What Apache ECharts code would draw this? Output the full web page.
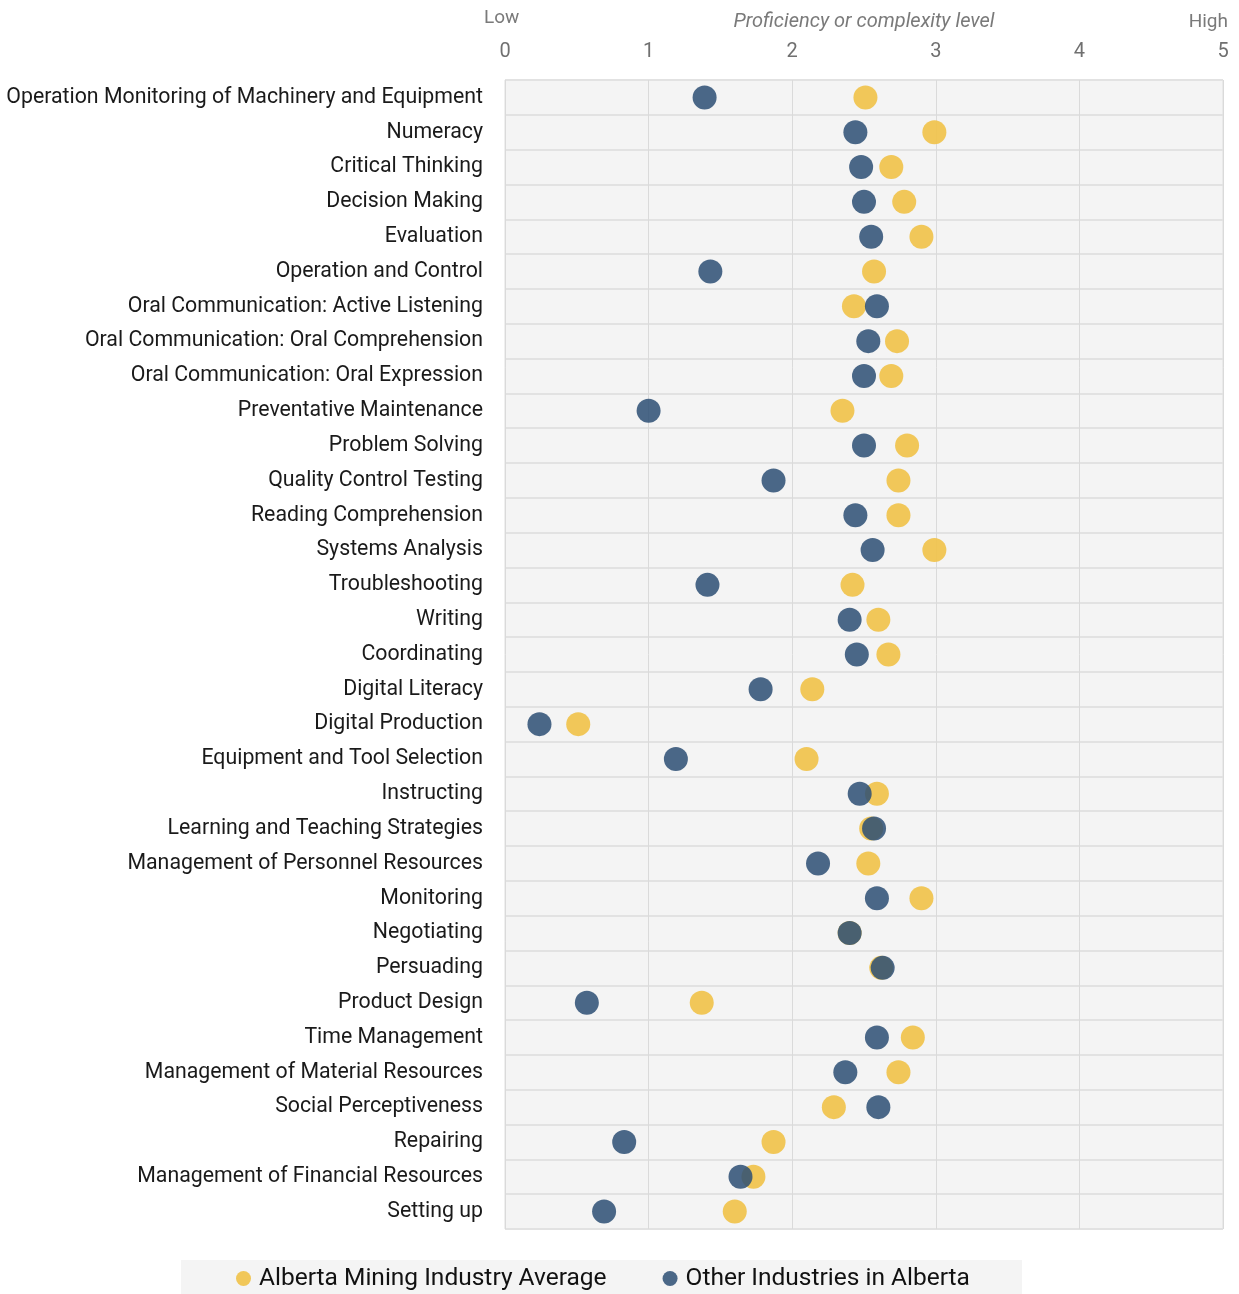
<!DOCTYPE html>
<html>
<head>
<meta charset="utf-8">
<script src="https://cdn.jsdelivr.net/npm/echarts@6/dist/echarts.min.js"></script>
<style>
  html, body { margin: 0; padding: 0; background: #ffffff; }
  #chart { width: 1239px; height: 1294px; }
</style>
</head>
<body>
<div id="chart"></div>
<script>
// Skills, top to bottom
const skills = [
  'Operation Monitoring of Machinery and Equipment',
  'Numeracy',
  'Critical Thinking',
  'Decision Making',
  'Evaluation',
  'Operation and Control',
  'Oral Communication: Active Listening',
  'Oral Communication: Oral Comprehension',
  'Oral Communication: Oral Expression',
  'Preventative Maintenance',
  'Problem Solving',
  'Quality Control Testing',
  'Reading Comprehension',
  'Systems Analysis',
  'Troubleshooting',
  'Writing',
  'Coordinating',
  'Digital Literacy',
  'Digital Production',
  'Equipment and Tool Selection',
  'Instructing',
  'Learning and Teaching Strategies',
  'Management of Personnel Resources',
  'Monitoring',
  'Negotiating',
  'Persuading',
  'Product Design',
  'Time Management',
  'Management of Material Resources',
  'Social Perceptiveness',
  'Repairing',
  'Management of Financial Resources',
  'Setting up'
];

// Alberta mining industry average proficiency level
const miningAverage = [
  2.51, 2.99, 2.69, 2.78, 2.90, 2.57, 2.43, 2.73, 2.69, 2.35,
  2.80, 2.74, 2.74, 2.99, 2.42, 2.60, 2.67, 2.14, 0.51, 2.10,
  2.59, 2.55, 2.53, 2.90, 2.40, 2.62, 1.37, 2.84, 2.74, 2.29,
  1.87, 1.73, 1.60
];

// Other industries in Alberta
const otherIndustries = [
  1.39, 2.44, 2.48, 2.50, 2.55, 1.43, 2.59, 2.53, 2.50, 1.00,
  2.50, 1.87, 2.44, 2.56, 1.41, 2.40, 2.45, 1.78, 0.24, 1.19,
  2.47, 2.57, 2.18, 2.59, 2.40, 2.63, 0.57, 2.59, 2.37, 2.60,
  0.83, 1.64, 0.69
];

const xTicks = [0, 1, 2, 3, 4, 5];

const seriesNames = ['Alberta Mining Industry Average', 'Other Industries in Alberta'];
const YELLOW = '#f0c450';
const BLUE = '#2d4f75';
const FONT = 'Roboto';

const chart = echarts.init(document.getElementById('chart'), null, { renderer: 'canvas' });

chart.setOption({
  animation: false,
  backgroundColor: '#ffffff',
  textStyle: { fontFamily: FONT },
  grid: {
    left: 505, right: 16, top: 80, bottom: 65,
    outerBoundsMode: 'none',
    containLabel: false,
    show: true, backgroundColor: '#f4f4f4', borderColor: '#dedede', borderWidth: 1
  },
  xAxis: {
    type: 'value',
    position: 'top',
    min: xTicks[0],
    max: xTicks[xTicks.length - 1],
    interval: 1,
    name: 'Proficiency or complexity level',
    nameLocation: 'middle',
    nameGap: 48,
    nameTextStyle: { fontSize: 20, fontStyle: 'italic', color: '#7a7a7a', fontFamily: FONT },
    axisLine: { show: false },
    axisTick: { show: false },
    axisLabel: { fontSize: 20, color: '#707070', margin: 18, fontFamily: FONT },
    splitLine: { show: true, lineStyle: { color: '#dadada', width: 1 } }
  },
  yAxis: {
    type: 'category',
    data: skills,
    inverse: true,
    boundaryGap: true,
    axisLine: { show: false },
    axisTick: { show: false },
    axisLabel: { fontSize: 21.3, color: '#1a1a1a', margin: 22, interval: 0, fontFamily: FONT },
    splitLine: { show: true, interval: 0, lineStyle: { color: '#e2e2e2', width: 2 } }
  },
  legend: {
    top: 1266,
    left: 236,
    padding: 0,
    itemWidth: 15,
    itemHeight: 15,
    itemGap: 56,
    icon: 'circle',
    textStyle: { fontSize: 24.5, color: '#111111', fontFamily: FONT, padding: [0, 0, 0, 3] },
    data: seriesNames
  },
  graphic: [
    { type: 'rect', left: 181, top: 1260, z: -1, shape: { width: 841, height: 34 }, style: { fill: '#f4f4f4' } },
    { type: 'text', left: 484, top: 9, style: { text: 'Low', fontSize: 19, fill: '#7a7a7a', fontFamily: FONT } },
    { type: 'text', right: 11, top: 13, style: { text: 'High', fontSize: 19, fill: '#7a7a7a', fontFamily: FONT } }
  ],
  series: [
    {
      name: seriesNames[0],
      type: 'scatter',
      symbol: 'circle',
      symbolSize: 24,
      itemStyle: { color: YELLOW, opacity: 0.95 },
      data: miningAverage.map((v, i) => [v, skills[i]]),
      z: 2
    },
    {
      name: seriesNames[1],
      type: 'scatter',
      symbol: 'circle',
      symbolSize: 24,
      itemStyle: { color: BLUE, opacity: 0.86 },
      data: otherIndustries.map((v, i) => [v, skills[i]]),
      z: 3
    }
  ]
});
</script>
</body>
</html>
